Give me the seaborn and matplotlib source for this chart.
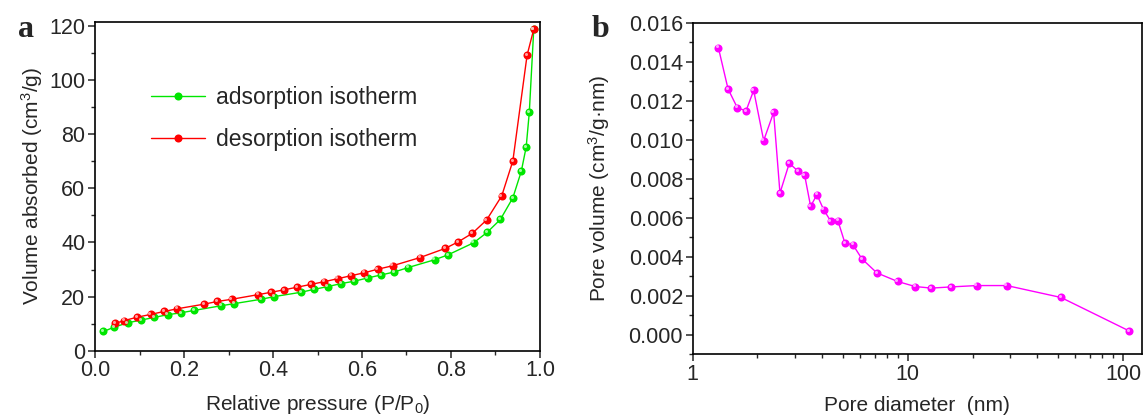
import numpy as np
import pandas as pd
import matplotlib
matplotlib.use("Agg")
import matplotlib.pyplot as plt
import matplotlib.transforms as mtransforms
import seaborn as sns
from matplotlib.ticker import (MultipleLocator, LogLocator, NullFormatter,
                               FixedLocator, FixedFormatter, FormatStrFormatter)

# adsorption isotherm (green)
ads_p = [0.019, 0.043, 0.073, 0.103, 0.133, 0.163, 0.193, 0.223, 0.283, 0.313,
         0.373, 0.403, 0.463, 0.493, 0.523, 0.553, 0.583, 0.613, 0.643, 0.673,
         0.703, 0.763, 0.793, 0.851, 0.881, 0.911, 0.939, 0.958, 0.969, 0.976, 0.986]
ads_v = [7.1, 8.7, 10.3, 11.3, 12.3, 13.3, 14.0, 14.9, 16.6, 17.4,
         19.0, 20.0, 21.6, 22.7, 23.7, 24.8, 25.7, 26.9, 28.0, 29.1,
         30.7, 33.6, 35.4, 39.9, 43.7, 48.5, 56.5, 66.3, 75.3, 88.1, 118.8]

# desorption isotherm (red)
des_p = [0.045, 0.065, 0.095, 0.125, 0.155, 0.185, 0.245, 0.275, 0.307, 0.366,
         0.396, 0.425, 0.455, 0.485, 0.515, 0.545, 0.575, 0.605, 0.635, 0.669,
         0.730, 0.787, 0.816, 0.848, 0.880, 0.914, 0.939, 0.971, 0.986]
des_v = [10.1, 11.1, 12.4, 13.4, 14.5, 15.5, 17.2, 18.2, 19.0, 20.7,
         21.6, 22.5, 23.5, 24.5, 25.5, 26.6, 27.7, 28.8, 30.1, 31.4,
         34.4, 37.8, 40.2, 43.4, 48.3, 57.2, 70.1, 109.2, 118.8]

# pore size distribution (magenta)
pore_d = [1.316, 1.459, 1.612, 1.769, 1.920, 2.137, 2.377, 2.544, 2.811, 3.095,
          3.311, 3.532, 3.779, 4.059, 4.375, 4.731, 5.098, 5.555, 6.114, 7.178,
          8.954, 10.82, 12.84, 15.84, 20.9, 28.83, 51.5, 106.6]
pore_v = [0.01472, 0.01261, 0.01164, 0.01148, 0.01253, 0.00996, 0.01140, 0.00727, 0.00880, 0.00838,
          0.00820, 0.00659, 0.00719, 0.00642, 0.00584, 0.00585, 0.00471, 0.00462, 0.00390, 0.00318,
          0.00274, 0.00248, 0.00240, 0.00246, 0.00253, 0.00253, 0.00192, 0.00021]

sns.set_style("ticks")
plt.rcParams['font.family'] = ['Liberation Sans', 'DejaVu Sans']
plt.rcParams['mathtext.fontset'] = 'custom'
plt.rcParams['mathtext.rm'] = 'Liberation Sans'
plt.rcParams['mathtext.it'] = 'Liberation Sans'

fig = plt.figure(figsize=(11.45, 4.17), dpi=100)
ax1 = fig.add_axes([0.083, 0.159, 0.3886, 0.789])
ax2 = fig.add_axes([0.605, 0.150, 0.392, 0.7956])

green = '#00e600'
red = '#ff0000'
magenta = '#ff00ff'
ms = 5.8


def shiny(ax, x, y, color, hl):
    # small highlight on each ball, like the Origin sphere markers
    off = mtransforms.ScaledTranslation(-1.3 / 100, 1.3 / 100, fig.dpi_scale_trans)
    ax.plot(x, y, linestyle='none', marker='o', markersize=2.2, markeredgewidth=0,
            color=hl, alpha=0.8, transform=ax.transData + off, zorder=5)


sns.lineplot(x=ads_p, y=ads_v, ax=ax1, color=green, marker='o', markersize=ms,
             markeredgewidth=0, linewidth=1.0, sort=False, estimator=None,
             label='adsorption isotherm')
sns.lineplot(x=des_p, y=des_v, ax=ax1, color=red, marker='o', markersize=ms,
             markeredgewidth=0, linewidth=1.0, sort=False, estimator=None,
             label='desorption isotherm')
shiny(ax1, ads_p, ads_v, green, '#c8ffc8')
shiny(ax1, des_p, des_v, red, '#ffc8c8')

sns.lineplot(x=pore_d, y=pore_v, ax=ax2, color=magenta, marker='o', markersize=ms,
             markeredgewidth=0, linewidth=1.0, sort=False, estimator=None)
shiny(ax2, pore_d, pore_v, magenta, '#ffd0ff')

fs = 15.5
lfs = 15
for ax in (ax1, ax2):
    for s in ax.spines.values():
        s.set_linewidth(1.2)
        s.set_color('black')
    ax.tick_params(which='major', direction='out', length=5, width=1.1, labelsize=fs,
                   top=False, right=False, pad=2)
    ax.tick_params(which='minor', direction='out', length=3, width=1.0,
                   top=False, right=False)

ax1.set_xlim(0, 1.0)
ax1.set_ylim(0, 121.6)
ax1.xaxis.set_major_locator(MultipleLocator(0.2))
ax1.xaxis.set_minor_locator(MultipleLocator(0.1))
ax1.yaxis.set_major_locator(MultipleLocator(20))
ax1.yaxis.set_minor_locator(MultipleLocator(10))
ax1.set_xlabel('Relative pressure (P/P$_0$)', fontsize=lfs, labelpad=8)
ax1.set_ylabel('Volume absorbed (cm$^3$/g)', fontsize=lfs, labelpad=3)
ax1.legend(loc='upper left', bbox_to_anchor=(0.105, 0.833), frameon=False,
           fontsize=16.5, handlelength=2.35, labelspacing=0.84, handletextpad=0.5,
           borderaxespad=0)

ax2.set_xscale('log')
ax2.set_xlim(1, 122)
ax2.set_ylim(-0.001, 0.016)
ax2.xaxis.set_major_locator(FixedLocator([1, 10, 100]))
ax2.xaxis.set_major_formatter(FixedFormatter(['1', '10', '100']))
ax2.xaxis.set_minor_locator(LogLocator(base=10, subs=np.arange(2, 10)))
ax2.xaxis.set_minor_formatter(NullFormatter())
ax2.yaxis.set_major_locator(MultipleLocator(0.002))
ax2.yaxis.set_minor_locator(MultipleLocator(0.001))
ax2.yaxis.set_major_formatter(FormatStrFormatter('%.3f'))
ax2.set_xlabel('Pore diameter  (nm)', fontsize=lfs, labelpad=8)
ax2.set_ylabel('Pore volume (cm$^3$/g\u00b7nm)', fontsize=lfs, labelpad=12)

fig.text(0.016, 0.911, 'a', fontsize=23, fontweight='bold', family='Liberation Serif')
fig.text(0.517, 0.911, 'b', fontsize=23, fontweight='bold', family='Liberation Serif')

fig.savefig('out.png', dpi=100)
